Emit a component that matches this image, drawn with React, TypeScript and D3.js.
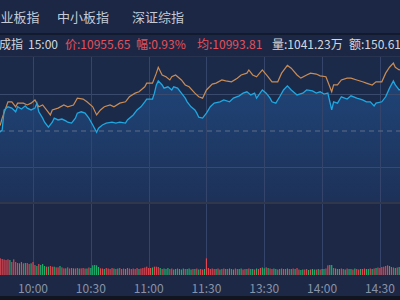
import React from "react";
import * as d3 from "d3";

// ---- data ----
const PREV_CLOSE = 10854.7;
const tabLabels = ["创业板指", "中小板指", "深证综指"];
const infoItems = [
  { text: "深证成指", color: "#d2d6de" },
  { text: "15:00", color: "#d2d6de" },
  { text: "价:10955.65", color: "#e5505a" },
  { text: "幅:0.93%", color: "#e5505a" },
  { text: "均:10993.81", color: "#e5505a" },
  { text: "量:1041.23万", color: "#d2d6de" },
  { text: "额:150.61亿", color: "#d2d6de" },
];
const timeTickMinutes = [30, 60, 90, 120, 150, 180, 210];
const timeTickLabels = ["10:00", "10:30", "11:00", "11:30", "13:30", "14:00", "14:30"];

// [trading minute, index value]
const priceLine: [number, number][] = [[0,10862],[5,10850],[9,10858],[13,10853],[14,10857],[15,10901],[17,10908],[19,10905],[21,10897],[22,10908],[24,10903],[26,10910],[27,10905],[29,10901],[31,10905],[32,10916],[33,10897],[35,10883],[36,10874],[38,10863],[40,10874],[41,10883],[43,10879],[45,10881],[47,10877],[48,10874],[50,10872],[52,10883],[53,10894],[55,10897],[57,10894],[59,10883],[61,10868],[63,10852],[64,10861],[66,10868],[68,10872],[71,10874],[73,10872],[75,10874],[78,10872],[79,10879],[82,10890],[84,10901],[86,10908],[88,10919],[89,10925],[92,10925],[93,10938],[94,10956],[95,10965],[97,10956],[98,10949],[100,10952],[102,10945],[103,10952],[105,10949],[107,10938],[109,10927],[110,10919],[112,10908],[114,10901],[115,10894],[116,10885],[118,10883],[120,10894],[122,10908],[124,10916],[127,10919],[129,10923],[132,10919],[134,10927],[137,10932],[139,10938],[141,10941],[143,10934],[145,10938],[146,10927],[149,10945],[151,10938],[153,10927],[154,10919],[156,10916],[158,10930],[160,10945],[162,10954],[164,10945],[167,10934],[170,10938],[172,10945],[175,10943],[177,10938],[179,10941],[181,10936],[183,10938],[185,10901],[186,10919],[188,10916],[190,10930],[193,10925],[195,10932],[198,10927],[201,10923],[203,10919],[205,10919],[207,10910],[208,10916],[211,10919],[213,10930],[215,10949],[217,10965],[218,10956],[220,10945],[224,10952],[228,10960],[232,10950],[236,10958],[240,10955.65]];

const leadLine: [number, number][] = [[0,10858],[6,10850],[10,10862],[13,10868],[14,10883],[17,10919],[19,10919],[21,10908],[22,10916],[25,10916],[27,10912],[29,10916],[31,10923],[33,10908],[35,10912],[37,10901],[39,10890],[40,10901],[43,10905],[46,10912],[48,10908],[51,10912],[53,10927],[56,10925],[58,10919],[61,10908],[63,10890],[65,10901],[67,10908],[70,10912],[72,10908],[75,10916],[78,10919],[80,10930],[83,10938],[85,10941],[88,10952],[89,10960],[92,10960],[94,10982],[95,10995],[97,10978],[99,10974],[101,10967],[102,10974],[104,10978],[107,10967],[109,10956],[111,10952],[114,10938],[116,10930],[118,10927],[120,10945],[123,10958],[125,10960],[128,10967],[130,10965],[133,10963],[136,10971],[138,10978],[141,10982],[142,10989],[144,10978],[146,10974],[149,10989],[152,10974],[154,10963],[157,10963],[159,10982],[162,10999],[164,10993],[167,10978],[169,10971],[172,10978],[174,10982],[177,10980],[179,10976],[182,10974],[185,10941],[186,10956],[188,10956],[190,10967],[193,10971],[195,10971],[198,10967],[201,10963],[203,10960],[206,10956],[208,10963],[211,10963],[213,10982],[215,10995],[217,11004],[218,10995],[220,10989],[226,10996],[232,10990],[240,10998]];

// volume per minute (万手), minutes 0..240
const volumes: number[] = [
  28,18,15,14,13,12,12,11,11,10,11,10,10,
  10.0,9.6,9.3,9.0,9.4,9.0,7.8,9.4,
  7.8,7.2,7.0,7.8,7.0,7.2,7.2,6.6,7.0,7.8,
  6.0,5.4,6.6,6.0,6.6,5.4,5.0,5.0,5.4,5.0,
  5.0,4.6,4.6,5.4,4.6,4.0,4.0,4.6,3.9,4.2,
  4.0,3.9,4.2,3.9,4.0,4.2,3.9,3.9,4.5,4.2,
  5.8,6.0,5.8,4.8,4.0,
  3.9,3.6,4.2,3.9,3.6,4.2,3.9,3.6,3.9,4.2,3.6,3.9,3.6,4.2,3.9,
  3.6,3.9,3.6,4.2,3.6,3.9,4.2,4.5,5.0,4.2,
  4.2,4.5,5.0,5.0,4.8,4.2,3.6,3.9,3.6,4.2,
  3.6,3.9,3.3,3.6,3.9,3.6,3.3,3.9,3.6,3.6,3.9,3.3,3.6,3.6,3.9,3.3,3.6,3.3,3.6,
  10.0,
  4.2,3.6,3.9,3.6,3.6,3.9,3.3,3.6,3.9,3.6,
  3.6,3.9,3.6,3.3,3.9,3.6,3.6,3.9,3.3,3.6,
  3.6,3.9,3.6,3.6,3.3,3.9,3.6,4.2,4.5,4.0,
  4.6,4.2,3.9,3.6,3.9,3.6,3.3,3.6,3.9,3.6,
  3.6,3.9,3.6,3.6,3.9,3.6,4.2,3.3,3.0,3.3,
  3.3,3.6,3.0,3.3,3.6,3.3,3.3,3.6,3.3,3.6,
  3.6,3.9,5.8,6.0,6.0,4.2,3.9,3.6,3.6,3.9,
  3.6,3.3,3.9,3.6,3.6,3.3,3.9,3.6,3.3,3.6,
  3.6,3.9,3.6,3.6,3.9,3.6,3.9,4.2,4.5,4.2,
  4.8,5.0,5.4,5.8,5.4,4.8,4.5,4.2,4.5,4.8,
  4.2,4.0,3.9,4.2,4.5,4.0,4.2,4.8,5.0,4.5,5.2,5.5,5.0,5.8,6.0,6.5,7.0,7.5,8.0,9.5,
];
// r = up minute, g = down minute
const volumeDirs =
  "rrrrrgrrrr" + "rrrrrrrrgr" + "rrrgrrgrrg" + "rrgrgggrgr" + "rgrrgrrgrr" +
  "rgrrgrrrgr" + "gggggrrgrr" + "rrgrgrrrgr" + "rrrrrgrrrr" + "rrgrrrgrgg" +
  "grrggrgggr" + "gggrgrgrrg" + "rrrrrgrgrr" + "grgrgrrggr" + "rgrggrgrrg" +
  "grgrrggrgr" + "rrgrgrgrrg" + "grrgrggrgr" + "ggrrggrgrg" + "rrgrggrgrr" +
  "grrggrgrgr" + "rrrrrgrrgr" + "grrgrgrgrr" + "rgrgrrgrgrr";

export default function App() {
  const W = 400, H = 300;
  const x = d3.scaleLinear().domain([0, 240]).range([-24.8, 437.7]);
  const y = d3.scaleLinear().domain([PREV_CLOSE * 0.985, PREV_CLOSE * 1.015]).range([205, 57]);
  const yv = d3.scaleLinear().domain([0, 43.2]).range([275, 203]);

  const line = d3.line<[number, number]>().x(d => x(d[0])).y(d => y(d[1])).curve(d3.curveLinear);
  const area = d3.area<[number, number]>().x(d => x(d[0])).y0(203).y1(d => y(d[1])).curve(d3.curveLinear);

  const font = "'Noto Sans CJK SC', 'Noto Sans', sans-serif";
  const infoX = [-25, 28, 65, 136, 197, 272, 349];
  const tabX = [-12.5, 57, 132];
  const barW = 1.15;

  return (
    <div style={{ position: "fixed", left: 0, top: 0, width: W, height: H }}>
      <svg width={W} height={H} style={{ display: "block" }}>
        <defs>
          <linearGradient id="areaGrad" x1="0" y1="0" x2="0" y2="1">
            <stop offset="0" stopColor="#1f4477" />
            <stop offset="1" stopColor="#1d3158" />
          </linearGradient>
        </defs>
        {/* backgrounds */}
        <rect x={0} y={0} width={W} height={H} fill="#1c2a49" />
        <rect x={0} y={0} width={W} height={33} fill="#1b2744" />
        <rect x={0} y={33} width={W} height={2} fill="#121a2d" />
        <rect x={0} y={35} width={W} height={21} fill="#1b2744" />
        <rect x={0} y={56} width={W} height={1} fill="#27334f" />
        <rect x={0} y={57} width={W} height={146} fill="#1c2a4a" />
        <rect x={0} y={203} width={W} height={93} fill="#1c2845" />
        <rect x={0} y={296} width={W} height={4} fill="#10151f" />

        {/* tabs */}
        {tabLabels.map((t, i) => (
          <text key={t} x={tabX[i]} y={21.5} fill="#c4cad6" fontSize={13} fontFamily={font}>{t}</text>
        ))}
        {/* info */}
        {infoItems.map((it, i) => (
          <text key={it.text} x={infoX[i]} y={49} fill={it.color} fontSize={12} fontFamily={font}>{it.text}</text>
        ))}

        {/* area under price */}
        <path d={area(priceLine) || ""} fill="url(#areaGrad)" />

        {/* grid */}
        {[94, 167].map(v => (
          <line key={v} x1={0} x2={W} y1={v + 0.5} y2={v + 0.5} stroke="#3a4a6c" strokeWidth={1} />
        ))}
        {timeTickMinutes.map(m => (
          <line key={m} x1={Math.round(x(m)) + 0.5} x2={Math.round(x(m)) + 0.5} y1={57} y2={275} stroke="#34446a" strokeWidth={1} />
        ))}
        <line x1={0} x2={W} y1={y(PREV_CLOSE)} y2={y(PREV_CLOSE)} stroke="#5f6d88" strokeWidth={1} strokeDasharray="5,4" />
        <rect x={0} y={202} width={W} height={2} fill="#30374a" />

        {/* lines */}
        <path d={line(leadLine) || ""} fill="none" stroke="#c98c55" strokeWidth={1.2} />
        <path d={line(priceLine) || ""} fill="none" stroke="#1ea7e1" strokeWidth={1.3} />

        {/* volume */}
        {volumes.map((v, i) => (
          <rect key={i} x={x(i) - barW / 2} y={yv(v)} width={barW} height={275 - yv(v)}
            fill={volumeDirs[i] === "g" ? "#1fb46c" : "#e5464f"} />
        ))}

        {/* time labels */}
        {timeTickMinutes.map((m, i) => (
          <text key={m} x={x(m)} y={292.5} textAnchor="middle" fill="#8893a8" fontSize={12} fontFamily={font}>{timeTickLabels[i]}</text>
        ))}
      </svg>
    </div>
  );
}
